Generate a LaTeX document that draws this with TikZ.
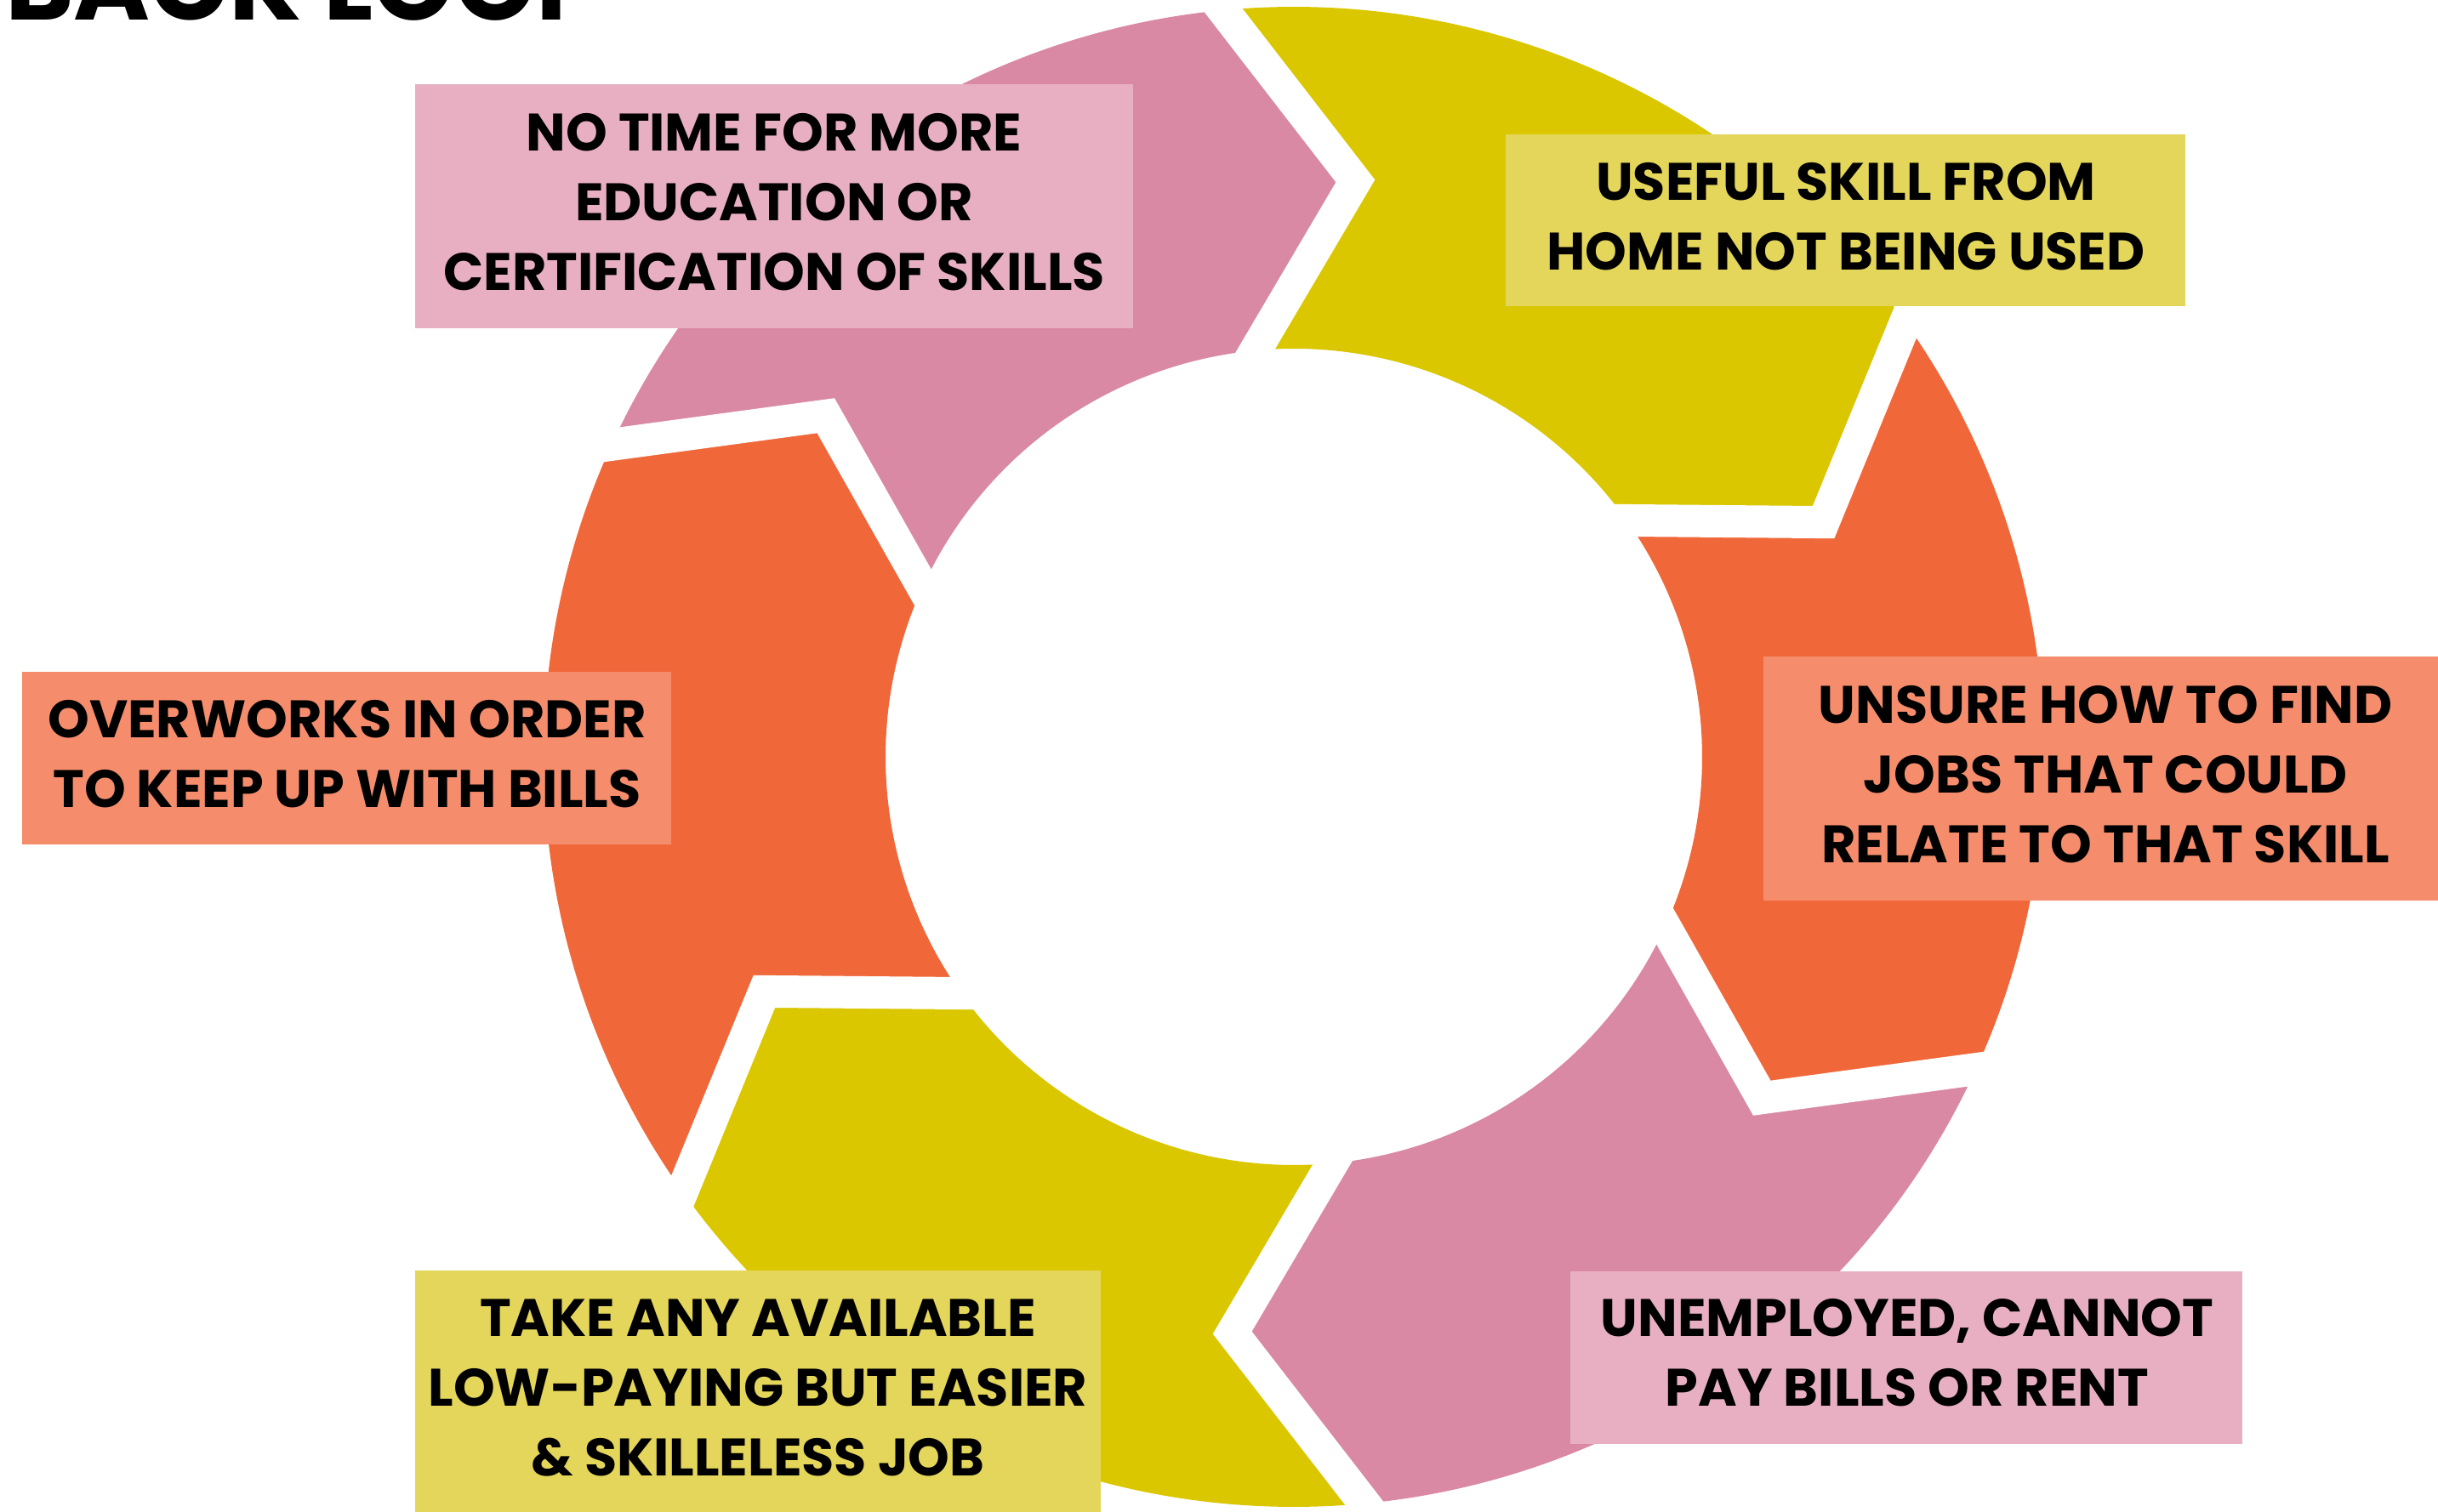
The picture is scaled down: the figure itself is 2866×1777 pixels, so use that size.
\documentclass[tikz,border=0pt]{standalone}
\usepackage{fontspec}
\setmainfont{Poppins}
\usetikzlibrary{calc}
\definecolor{segY}{RGB}{218,199,0}
\definecolor{segO}{RGB}{240,104,58}
\definecolor{segP}{RGB}{217,137,164}
\definecolor{boxY}{RGB}{227,214,90}
\definecolor{boxO}{RGB}{245,141,108}
\definecolor{boxP}{RGB}{232,175,195}
\begin{document}
\begin{tikzpicture}[x=1pt,y=1pt,
  lab/.style={font=\fontsize{62}{82}\selectfont\bfseries, align=center, inner sep=0pt, text=black},
  gap/.style={white, line width=38pt, line join=miter}]
\useasboundingbox (0,0) rectangle (2866,1777);
\clip (0,0) rectangle (2866,1777);
\coordinate (C) at (1521,887);
\foreach \k in {0,...,6}{
  \pgfmathsetmacro\b{95.4-60*\k}
  \pgfmathsetmacro\t{\b-11.5}
  \coordinate (O\k) at ($(C)+(\b:882)$);
  \coordinate (T\k) at ($(C)+(\t:681)$);
  \coordinate (I\k) at ($(C)+(\b:480)$);
}
\foreach \k/\c in {0/segY,1/segO,2/segP,3/segY,4/segO,5/segP}{
  \pgfmathsetmacro\ba{95.4-60*\k}
  \pgfmathsetmacro\bb{\ba-60}
  \pgfmathtruncatemacro\kn{\k+1}
  \fill[\c] (O\k) arc[start angle=\ba, end angle=\bb, radius=882] -- (T\kn) -- (I\kn)
     arc[start angle=\bb, end angle=\ba, radius=480] -- (T\k) -- cycle;
}
\foreach \k in {0,...,5}{
  \draw[gap] ($(T\k)!1.3!(O\k)$) -- (T\k) -- ($(T\k)!1.4!(I\k)$);
}
% label boxes
\fill[boxP] (488,1391) rectangle (1332,1678);
\fill[boxY] (1770,1417) rectangle (2569,1619);
\fill[boxO] (2073,718) rectangle (2880,1005);
\fill[boxO] (26,784) rectangle (789,987);
\fill[boxY] (488,-10) rectangle (1294,283);
\fill[boxP] (1846,79) rectangle (2636,282);
% texts
\node[lab] (t1) at (910,1539.5) {NO TIME FOR MORE\\EDUCATION OR\\CERTIFICATION OF SKILLS};
\node[lab] (t2) at (2170,1522) {USEFUL SKILL FROM\\HOME NOT BEING USED};
\node[lab] (t3) at (2475,866.5) {UNSURE HOW TO FIND\\JOBS THAT COULD\\RELATE TO THAT SKILL};
\node[lab] (t4) at (408,890.5) {OVERWORKS IN ORDER\\TO KEEP UP WITH BILLS};
\node[lab] (t5) at (891,145) {TAKE ANY AVAILABLE\\LOW-PAYING BUT EASIER\\\& SKILLELESS JOB};
\node[lab] (t6) at (2242,186) {UNEMPLOYED, CANNOT\\PAY BILLS OR RENT};
\node[anchor=base west, inner sep=0pt, font=\fontsize{122}{122}\selectfont\bfseries] (title) at (6,1753) {BACK LOOP};
\end{tikzpicture}
\end{document}
